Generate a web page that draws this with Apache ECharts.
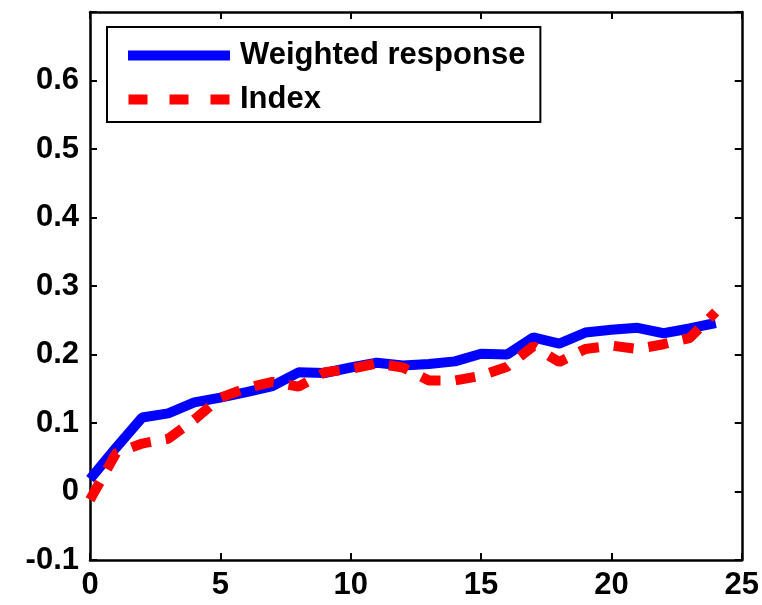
<!DOCTYPE html>
<html><head><meta charset="utf-8">
<script src="https://cdn.jsdelivr.net/npm/echarts@6/dist/echarts.min.js"></script>
<style>html,body{margin:0;padding:0;background:#fff}#c{width:762px;height:605px}</style>
</head><body><div id="c"></div>
<script>
const xValues = [0,1,2,3,4,5,6,7,8,9,10,11,12,13,14,15,16,17,18,19,20,21,22,23,24];
const weightedResponse = [0.018,0.064,0.108,0.114,0.130,0.137,0.145,0.154,0.174,0.173,0.181,0.188,0.184,0.186,0.190,0.201,0.200,0.225,0.216,0.232,0.236,0.239,0.231,0.238,0.246];
const indexSeries = [-0.012,0.056,0.070,0.077,0.105,0.137,0.151,0.160,0.153,0.174,0.179,0.187,0.181,0.162,0.162,0.169,0.182,0.212,0.189,0.208,0.213,0.208,0.215,0.224,0.262];
const seriesNames = ['Weighted response','Index'];

const chart = echarts.init(document.getElementById('c'), null, {renderer:'canvas'});
const font = 'Liberation Sans';
const axisCommon = {
  axisLine:{show:true,onZero:false,lineStyle:{color:'#000',width:2.5}},
  axisTick:{show:true,inside:true,length:7,lineStyle:{color:'#000',width:2}},
  splitLine:{show:false}
};
chart.setOption({
  animation:false,
  backgroundColor:'#fff',
  grid:{left:90,right:20,top:12,bottom:45,containLabel:false},
  legend:{
    data:[
      {name:seriesNames[0],icon:'rect',itemStyle:{color:'#0000ff'}},
      {name:seriesNames[1],icon:'path://M0,0H19V10H0Z M41,0H60V10H41Z M82,0H101V10H82Z',itemStyle:{color:'#ff0000'}}
    ],
    orient:'vertical', left:107, top:27,
    itemWidth:102, itemHeight:10, itemGap:13,
    padding:[13,15,7,21],
    borderColor:'#000', borderWidth:2, backgroundColor:'#fff',
    textStyle:{fontFamily:font,fontWeight:'bold',fontSize:31,color:'#000',padding:[0,0,0,5]},
    selectedMode:false
  },
  xAxis:[
    Object.assign({type:'value',min:0,max:25,interval:5,position:'bottom',
      axisLabel:{color:'#000',fontFamily:font,fontWeight:'bold',fontSize:31,margin:10}},axisCommon),
    Object.assign({type:'value',min:0,max:25,interval:5,position:'top',
      axisLabel:{show:false}},axisCommon)
  ],
  yAxis:[
    Object.assign({type:'value',min:-0.1,max:0.7,interval:0.1,position:'left',
      axisLabel:{color:'#000',fontFamily:font,fontWeight:'bold',fontSize:31,margin:11,
        formatter:v=>{const r=Math.round(v*10)/10; if(r>=0.65) return ''; return String(r);}}},axisCommon),
    Object.assign({type:'value',min:-0.1,max:0.7,interval:0.1,position:'right',
      axisLabel:{show:false}},axisCommon)
  ],
  series:[
    {name:seriesNames[0],type:'line',showSymbol:false,symbol:'none',
     data:xValues.map((x,i)=>[x,weightedResponse[i]]),
     lineStyle:{color:'#0000ff',width:10},itemStyle:{color:'#0000ff'},z:2},
    {name:seriesNames[1],type:'line',showSymbol:false,symbol:'none',
     data:xValues.map((x,i)=>[x,indexSeries[i]]),
     lineStyle:{color:'#ff0000',width:10,type:[20,15],cap:'butt'},itemStyle:{color:'#ff0000'},z:3}
  ]
});
</script></body></html>
